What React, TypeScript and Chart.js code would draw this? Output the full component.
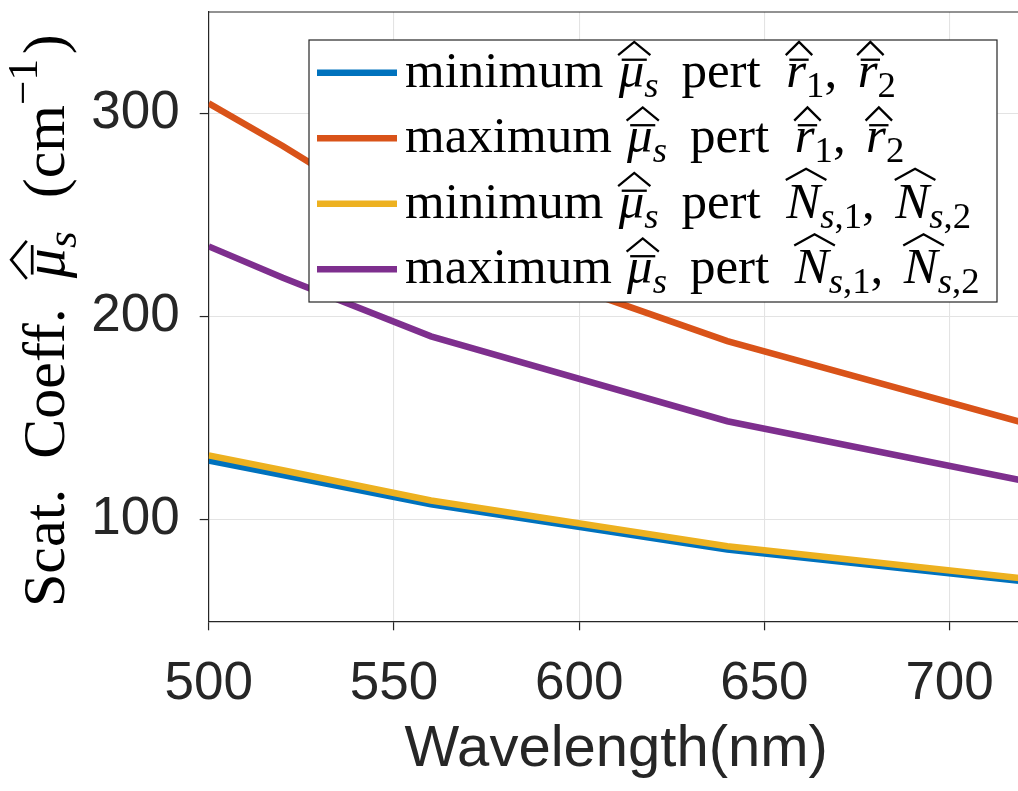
import { useEffect, useRef } from 'react';
import { Chart, registerables } from 'chart.js';

Chart.register(...registerables);

// Wavelength samples (nm)
const wavelengths = [500, 520, 560, 640, 720];

// Scattering coefficient series (cm^-1)
const minPertR = [129.2, 122.0, 107.6, 85.4, 69.7];
const maxPertR = [305.0, 284.0, 239.0, 188.0, 147.7];
const minPertN = [131.7, 124.4, 109.5, 87.0, 71.1];
const maxPertN = [234.6, 219.1, 190.3, 148.5, 119.2];

const xTicks = [500, 550, 600, 650, 700];
const yTicks = [100, 200, 300];

const seriesColors = ['#0072BD', '#D95319', '#EDB120', '#7E2F8E'];
const seriesLabels = [
  'minimum μ̄ₛ pert r̄₁, r̄₂',
  'maximum μ̄ₛ pert r̄₁, r̄₂',
  'minimum μ̄ₛ pert N̂ₛ,₁, N̂ₛ,₂',
  'maximum μ̄ₛ pert N̂ₛ,₁, N̂ₛ,₂',
];

// Rich math-style text pieces
type Piece = { t?: string; it?: boolean; sub?: boolean; sup?: boolean; bar?: boolean; hat?: boolean; gap?: number };

const muPiece: Piece[] = [
  { t: 'μ', it: true, bar: true, hat: true },
  { t: 's', it: true, sub: true },
];
const rPair: Piece[] = [
  { t: 'r', it: true, bar: true, hat: true },
  { t: '1', sub: true },
  { t: ',' },
  { gap: 0.4 },
  { t: 'r', it: true, bar: true, hat: true },
  { t: '2', sub: true },
];
const nPair: Piece[] = [
  { t: 'N', it: true, hat: true },
  { t: 's', it: true, sub: true },
  { t: ',1', sub: true },
  { t: ',' },
  { gap: 0.4 },
  { t: 'N', it: true, hat: true },
  { t: 's', it: true, sub: true },
  { t: ',2', sub: true },
];
const legendWords = ['minimum', 'maximum', 'minimum', 'maximum'];
const legendPairs = [rPair, rPair, nPair, nPair];

const yTitle: Piece[] = [
  { t: 'Scat.' },
  { gap: 0.5 },
  { t: 'Coeff.' },
  { gap: 0.5 },
  ...muPiece,
  { gap: 0.55 },
  { t: '(cm' },
  { t: '−1', sup: true },
  { gap: 0.08 },
  { t: ')' },
];
const xTitle = 'Wavelength(nm)';

const SERIF = '"Liberation Serif", "DejaVu Serif", serif';
const SANS = '"Liberation Sans", Arial, sans-serif';
const AXIS = '#262626';

function drawPieces(ctx: CanvasRenderingContext2D, pieces: Piece[], x: number, y: number, size: number) {
  let cx = x;
  for (const p of pieces) {
    if (p.gap) {
      cx += p.gap * size;
      continue;
    }
    const s = p.sub || p.sup ? size * 0.72 : size;
    const dy = p.sub ? size * 0.2 : p.sup ? -size * 0.45 : 0;
    ctx.font = `${p.it ? 'italic ' : ''}${s}px ${SERIF}`;
    const text = p.t || '';
    const w = ctx.measureText(text).width;
    ctx.fillText(text, cx, y + dy);
    ctx.lineWidth = size * 0.045;
    if (p.bar) {
      const by = y - size * 0.53;
      ctx.beginPath();
      ctx.moveTo(cx + size * 0.06, by);
      ctx.lineTo(cx + w + size * 0.05, by);
      ctx.stroke();
    }
    if (p.hat) {
      const base = p.bar ? y - size * 0.62 : y - size * 0.74;
      const apex = p.bar ? y - size * 0.88 : y - size * 0.96;
      const l = cx - size * 0.01;
      const r = cx + w + size * 0.12;
      ctx.beginPath();
      ctx.moveTo(l, base);
      ctx.lineTo((l + r) / 2, apex);
      ctx.lineTo(r, base);
      ctx.stroke();
    }
    cx += w;
  }
  return cx - x;
}

const decorPlugin = {
  id: 'decor',
  afterDraw(chart: Chart) {
    const { ctx, chartArea } = chart;
    ctx.save();
    // top and right box edges
    ctx.strokeStyle = AXIS;
    ctx.lineWidth = 1.2;
    ctx.beginPath();
    ctx.moveTo(chartArea.left, chartArea.top);
    ctx.lineTo(chartArea.right, chartArea.top);
    ctx.lineTo(chartArea.right, chartArea.bottom);
    ctx.stroke();

    // y-axis title
    ctx.fillStyle = '#000';
    ctx.strokeStyle = '#000';
    ctx.textBaseline = 'alphabetic';
    ctx.textAlign = 'left';
    ctx.save();
    ctx.translate(64, 607);
    ctx.rotate(-Math.PI / 2);
    drawPieces(ctx, yTitle, 0, 0, 60);
    ctx.restore();

    // legend
    const bx = 309, by = 40, bw = 688, bh = 262;
    ctx.fillStyle = '#fff';
    ctx.fillRect(bx, by, bw, bh);
    ctx.strokeStyle = AXIS;
    ctx.lineWidth = 1.2;
    ctx.strokeRect(bx, by, bw, bh);
    const rowH = bh / 4;
    chart.data.datasets.forEach((ds, i) => {
      const cy = by + rowH * (i + 0.5);
      ctx.strokeStyle = ds.borderColor as string;
      ctx.lineWidth = 6.5;
      ctx.beginPath();
      ctx.moveTo(317, cy);
      ctx.lineTo(397, cy);
      ctx.stroke();
      ctx.fillStyle = '#000';
      ctx.strokeStyle = '#000';
      const pieces: Piece[] = [
        { t: legendWords[i] },
        { gap: 0.3 },
        ...muPiece,
        { gap: 0.45 },
        { t: 'pert' },
        { gap: 0.5 },
        ...legendPairs[i],
      ];
      drawPieces(ctx, pieces, 405, cy + 14, 51);
    });
    ctx.restore();
  },
};

export default function App() {
  const ref = useRef<HTMLCanvasElement | null>(null);

  useEffect(() => {
    if (!ref.current) return;
    const series = [minPertR, maxPertR, minPertN, maxPertN];
    const chart = new Chart(ref.current, {
      type: 'line',
      data: {
        datasets: series.map((vals, i) => ({
          label: seriesLabels[i],
          data: wavelengths.map((w, j) => ({ x: w, y: vals[j] })),
          borderColor: seriesColors[i],
          backgroundColor: seriesColors[i],
          borderWidth: 6.5,
          pointRadius: 0,
          tension: 0,
          order: 4 - i,
        })),
      },
      options: {
        animation: false,
        responsive: false,
        events: [],
        layout: { padding: { top: 12, right: 6.3, left: 0, bottom: 0 } },
        plugins: { legend: { display: false }, tooltip: { enabled: false } },
        scales: {
          x: {
            type: 'linear',
            min: 500,
            max: 720,
            afterBuildTicks: (s: any) => {
              s.ticks = xTicks.map((v) => ({ value: v }));
            },
            afterFit: (s: any) => {
              s.height = 169.7;
              s.paddingLeft = 0;
              s.paddingRight = 0;
            },
            grid: { color: '#e3e3e3', lineWidth: 1.1, tickColor: AXIS, tickLength: 9, tickWidth: 1.2 },
            border: { color: AXIS, width: 1.2 },
            ticks: { color: AXIS, font: { family: SANS, size: 53 }, padding: 22, maxRotation: 0 },
            title: {
              display: true,
              text: xTitle,
              color: AXIS,
              font: { family: SANS, size: 58 },
              padding: { top: 0, bottom: 6 },
            },
          },
          y: {
            type: 'linear',
            min: 50,
            max: 350,
            afterBuildTicks: (s: any) => {
              s.ticks = yTicks.map((v) => ({ value: v }));
            },
            afterFit: (s: any) => {
              s.width = 208.7;
              s.paddingTop = 0;
              s.paddingBottom = 0;
            },
            grid: { color: '#e3e3e3', lineWidth: 1.1, tickColor: AXIS, tickLength: 9, tickWidth: 1.2 },
            border: { color: AXIS, width: 1.2 },
            ticks: { color: AXIS, font: { family: SANS, size: 53 }, padding: 20 },
          },
        },
      },
      plugins: [decorPlugin],
    });
    return () => chart.destroy();
  }, []);

  return (
    <div style={{ position: 'fixed', left: 0, top: 0, width: 1018, height: 791, overflow: 'hidden', background: '#fff' }}>
      <canvas ref={ref} width={1030} height={791} style={{ display: 'block' }} />
    </div>
  );
}
